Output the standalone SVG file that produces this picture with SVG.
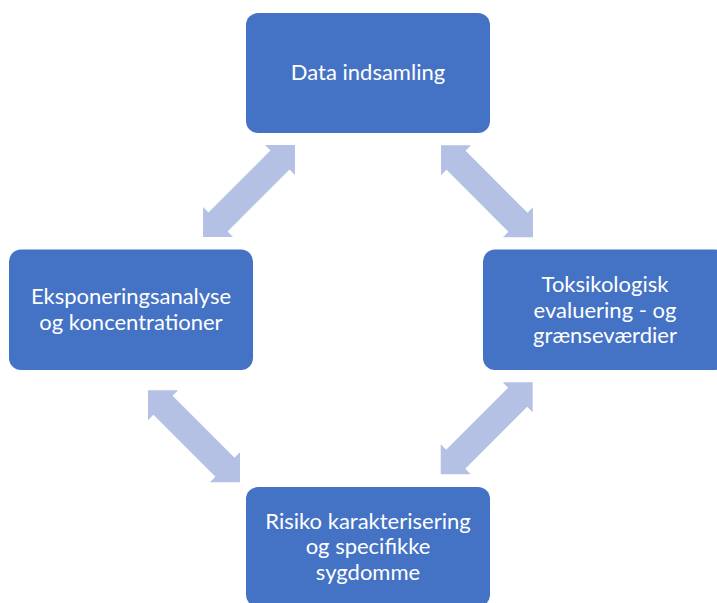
<svg xmlns="http://www.w3.org/2000/svg" width="717" height="603" viewBox="0 0 717 603">
  <style>
    .box { fill: #4472C4; }
    .label { fill: #FFFFFF; font-family: Lato, "Open Sans", "Liberation Sans", sans-serif; font-size: 22px; text-anchor: middle; }
    .dbl { fill: #B4C0E4; }
  </style>
  <defs>
    <!-- double-headed block arrow, horizontal, centred on the origin -->
    <polygon id="dblArrow" points="65,0 43.8,-21.2 43.8,-13.5 -43.8,-13.5 -43.8,-21.2 -65,0 -43.8,21.2 -43.8,13.5 43.8,13.5 43.8,21.2"/>
  </defs>

  <rect width="717" height="603" fill="#FFFFFF"/>

  <g id="connectors" class="dbl">
    <use href="#dblArrow" transform="translate(249 191) rotate(-45)"/>
    <use href="#dblArrow" transform="translate(487 191.3) rotate(45)"/>
    <use href="#dblArrow" transform="translate(194 436.2) rotate(45)"/>
    <use href="#dblArrow" transform="translate(486.7 428.3) rotate(-45)"/>
  </g>

  <g id="node-data">
    <rect class="box" x="246" y="13" width="244" height="120" rx="12"/>
    <text class="label" x="368" y="80">Data indsamling</text>
  </g>

  <g id="node-toks">
    <rect class="box" x="483" y="249.5" width="244" height="120.5" rx="12"/>
    <text class="label" x="605" y="292">Toksikologisk</text>
    <text class="label" x="605" y="317.5">evaluering - og</text>
    <text class="label" x="605" y="343">grænseværdier</text>
  </g>

  <g id="node-ekspo">
    <rect class="box" x="9" y="249.5" width="244" height="120.5" rx="12"/>
    <text class="label" x="131" y="304">Eksponeringsanalyse</text>
    <text class="label" x="131" y="330">og koncentrationer</text>
  </g>

  <g id="node-risiko">
    <rect class="box" x="246" y="487" width="244" height="120" rx="12"/>
    <text class="label" x="368" y="528.5">Risiko karakterisering</text>
    <text class="label" x="368" y="554">og specifikke</text>
    <text class="label" x="368" y="579.5">sygdomme</text>
  </g>
</svg>
